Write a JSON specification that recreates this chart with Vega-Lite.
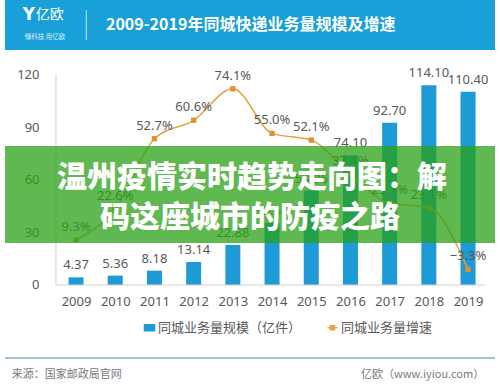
{
  "$schema": "https://vega.github.io/schema/vega-lite/v6.json",
  "width": 500,
  "height": 390,
  "autosize": "none",
  "padding": 0,
  "background": "white",
  "config": {
    "font": "Noto Sans, Noto Sans CJK SC",
    "view": {"stroke": null}
  },
  "data": {
    "values": [
      {"year": 2009, "volume": 4.37, "growth": 0.093},
      {"year": 2010, "volume": 5.36, "growth": 0.226},
      {"year": 2011, "volume": 8.18, "growth": 0.527},
      {"year": 2012, "volume": 13.14, "growth": 0.606},
      {"year": 2013, "volume": 22.88, "growth": 0.741},
      {"year": 2014, "volume": 35.54, "growth": 0.55},
      {"year": 2015, "volume": 53.96, "growth": 0.521},
      {"year": 2016, "volume": 74.10, "growth": 0.374},
      {"year": 2017, "volume": 92.70, "growth": 0.251},
      {"year": 2018, "volume": 114.10, "growth": 0.231},
      {"year": 2019, "volume": 110.40, "growth": -0.033}
    ]
  },
  "layer": [
    {
      "layer": [
        {
          "mark": {"type": "bar", "width": 15},
          "encoding": {
            "x": {
              "field": "year", "type": "quantitative",
              "scale": {"domain": [2007.1875, 2019.6875], "nice": false, "zero": false},
              "axis": {
                "title": null, "values": [2009, 2010, 2011, 2012, 2013, 2014, 2015, 2016, 2017, 2018, 2019],
                "format": "d", "domain": false, "ticks": false, "grid": false,
                "offset": -105, "labelPadding": 10, "labelFontSize": 13, "labelColor": "#595959",
                "labelFont": "Noto Sans, Noto Sans CJK SC"
              }
            },
            "y": {
              "field": "volume", "type": "quantitative",
              "scale": {"domain": [-60, 162.857], "nice": false, "zero": false},
              "axis": {
                "title": null, "values": [0, 30, 60, 90, 120], "domain": false, "ticks": false,
                "grid": false, "offset": -52, "labelPadding": 13, "labelFontSize": 13,
                "labelColor": "#595959", "labelFont": "Noto Sans, Noto Sans CJK SC"
              }
            },
            "color": {
              "datum": "同城业务量规模（亿件）",
              "scale": {"domain": ["同城业务量规模（亿件）", "同城业务量增速"], "range": ["#1e9ad6", "#e9a144"]},
              "legend": {
                "orient": "none", "legendX": 143, "legendY": 321, "direction": "horizontal",
                "title": null, "labelFontSize": 13, "labelColor": "#595959", "labelOffset": 2,
                "columnPadding": 22, "symbolSize": 100, "labelLimit": 300,
                "encode": {
                  "symbols": {
                    "update": {
                      "shape": {"signal": "datum.value === '同城业务量增速' ? 'M-1,0H1M-0.4,-0.4H0.4V0.4H-0.4Z' : 'M-1,-0.6H1V0.6H-1Z'"},
                      "fill": {"signal": "datum.value === '同城业务量增速' ? '#e9a144' : '#1e9ad6'"},
                      "stroke": {"signal": "datum.value === '同城业务量增速' ? '#e9a144' : 'transparent'"},
                      "strokeWidth": {"value": 1.5}
                    }
                  }
                }
              }
            }
          }
        },
        {
          "mark": {"type": "text", "baseline": "bottom", "dy": -5, "fontSize": 13, "color": "#595959"},
          "encoding": {
            "x": {"field": "year", "type": "quantitative"},
            "y": {"field": "volume", "type": "quantitative"},
            "text": {"field": "volume", "type": "quantitative", "format": ".2f"}
          }
        },
        {
          "data": {"values": [{}]},
          "mark": {"type": "rule", "color": "#d0d0d0", "strokeWidth": 1},
          "encoding": {
            "x": {"datum": 2008.4875, "type": "quantitative"},
            "y": {"datum": 0, "type": "quantitative"},
            "y2": {"datum": 120}
          }
        },
        {
          "data": {"values": [{}]},
          "mark": {"type": "rule", "color": "#d0d0d0", "strokeWidth": 1},
          "encoding": {
            "x": {"datum": 2008.4875, "type": "quantitative"},
            "x2": {"datum": 2019.4375},
            "y": {"datum": 0, "type": "quantitative"}
          }
        },
        {
          "data": {"values": [{}]},
          "mark": {"type": "rect", "color": "#1aa0d8"},
          "encoding": {
            "x": {"datum": 2007.1875, "type": "quantitative"},
            "x2": {"datum": 2019.6875},
            "y": {"datum": 134.286, "type": "quantitative"},
            "y2": {"datum": 162.857}
          }
        },
        {
          "data": {"values": [{}]},
          "mark": {"type": "text", "color": "white", "fontSize": 16, "fontWeight": "bold", "align": "left", "baseline": "middle", "font": "Noto Sans CJK SC"},
          "encoding": {
            "x": {"datum": 2009.7625, "type": "quantitative"},
            "y": {"datum": 148.571, "type": "quantitative"},
            "text": {"value": "2009-2019年同城快递业务量规模及增速"}
          }
        },
        {
          "data": {"values": [{}]},
          "mark": {"type": "text", "color": "white", "fontSize": 17, "fontWeight": "bold", "align": "center", "baseline": "middle", "font": "DejaVu Sans"},
          "encoding": {
            "x": {"datum": 2007.8, "type": "quantitative"},
            "y": {"datum": 154.3, "type": "quantitative"},
            "text": {"value": "Y"}
          }
        },
        {
          "data": {"values": [{}]},
          "mark": {"type": "text", "color": "white", "fontSize": 14, "align": "left", "baseline": "middle", "font": "Noto Sans CJK SC"},
          "encoding": {
            "x": {"datum": 2007.97, "type": "quantitative"},
            "y": {"datum": 154.3, "type": "quantitative"},
            "text": {"value": "亿欧"}
          }
        },
        {
          "data": {"values": [{}]},
          "mark": {"type": "text", "color": "#d8eef8", "fontSize": 6.5, "align": "left", "baseline": "middle", "font": "Noto Sans CJK SC"},
          "encoding": {
            "x": {"datum": 2007.69, "type": "quantitative"},
            "y": {"datum": 141.7, "type": "quantitative"},
            "text": {"value": "懂科技 用亿欧"}
          }
        },
        {
          "data": {"values": [{}]},
          "mark": {"type": "rule", "color": "#bfe4f4", "strokeWidth": 1},
          "encoding": {
            "x": {"datum": 2009.2625, "type": "quantitative"},
            "y": {"datum": 140, "type": "quantitative"},
            "y2": {"datum": 157.14}
          }
        },
        {
          "data": {"values": [{}]},
          "mark": {"type": "rule", "color": "#9fc3d2", "strokeWidth": 2},
          "encoding": {
            "x": {"datum": 2007.1875, "type": "quantitative"},
            "x2": {"datum": 2019.6875},
            "y": {"datum": -41.71, "type": "quantitative"}
          }
        },
        {
          "data": {"values": [{}]},
          "mark": {"type": "text", "color": "#7a7a7a", "fontSize": 11, "align": "left", "baseline": "middle", "font": "Noto Sans CJK SC"},
          "encoding": {
            "x": {"datum": 2007.36, "type": "quantitative"},
            "y": {"datum": -51.43, "type": "quantitative"},
            "text": {"value": "来源：国家邮政局官网"}
          }
        },
        {
          "data": {"values": [{}]},
          "mark": {"type": "text", "color": "#7a7a7a", "fontSize": 11, "align": "right", "baseline": "middle", "font": "Noto Sans CJK SC"},
          "encoding": {
            "x": {"datum": 2019.4125, "type": "quantitative"},
            "y": {"datum": -51.43, "type": "quantitative"},
            "text": {"value": "亿欧（www.iyiou.com）"}
          }
        }
      ]
    },
    {
      "layer": [
        {
          "mark": {"type": "line", "interpolate": "monotone", "strokeWidth": 1.5},
          "encoding": {
            "x": {"field": "year", "type": "quantitative"},
            "y": {
              "field": "growth", "type": "quantitative",
              "scale": {"domain": [-0.55, 1.12143], "nice": false, "zero": false},
              "axis": null
            },
            "color": {"datum": "同城业务量增速"}
          }
        },
        {
          "mark": {"type": "point", "shape": "square", "filled": true, "size": 28, "color": "#e38f2e", "opacity": 1},
          "encoding": {
            "x": {"field": "year", "type": "quantitative"},
            "y": {"field": "growth", "type": "quantitative"}
          }
        },
        {
          "mark": {"type": "text", "baseline": "bottom", "dy": -6, "fontSize": 13, "color": "#595959"},
          "encoding": {
            "x": {"field": "year", "type": "quantitative"},
            "y": {"field": "growth", "type": "quantitative"},
            "text": {"field": "growth", "type": "quantitative", "format": ".1%"}
          }
        }
      ]
    },
    {
      "layer": [
        {
          "data": {"values": [{}]},
          "mark": {"type": "rect", "color": "#2aa116", "opacity": 0.75},
          "encoding": {
            "x": {"datum": 2007.1875, "type": "quantitative"},
            "x2": {"datum": 2019.6875},
            "y": {
              "datum": 24, "type": "quantitative",
              "scale": {"domain": [-60, 162.857], "nice": false, "zero": false},
              "axis": null
            },
            "y2": {"datum": 79.43}
          }
        },
        {
          "data": {"values": [{}]},
          "mark": {"type": "text", "color": "white", "fontSize": 30, "fontWeight": 900, "align": "center", "baseline": "middle", "font": "Noto Sans CJK SC"},
          "encoding": {
            "x": {"datum": 2013.4875, "type": "quantitative"},
            "y": {"datum": 61.14, "type": "quantitative"},
            "text": {"value": "温州疫情实时趋势走向图：解"}
          }
        },
        {
          "data": {"values": [{}]},
          "mark": {"type": "text", "color": "white", "fontSize": 30, "fontWeight": 900, "align": "center", "baseline": "middle", "font": "Noto Sans CJK SC"},
          "encoding": {
            "x": {"datum": 2013.4375, "type": "quantitative"},
            "y": {"datum": 38.29, "type": "quantitative"},
            "text": {"value": "码这座城市的防疫之路"}
          }
        }
      ]
    }
  ],
  "resolve": {"scale": {"y": "independent"}}
}
